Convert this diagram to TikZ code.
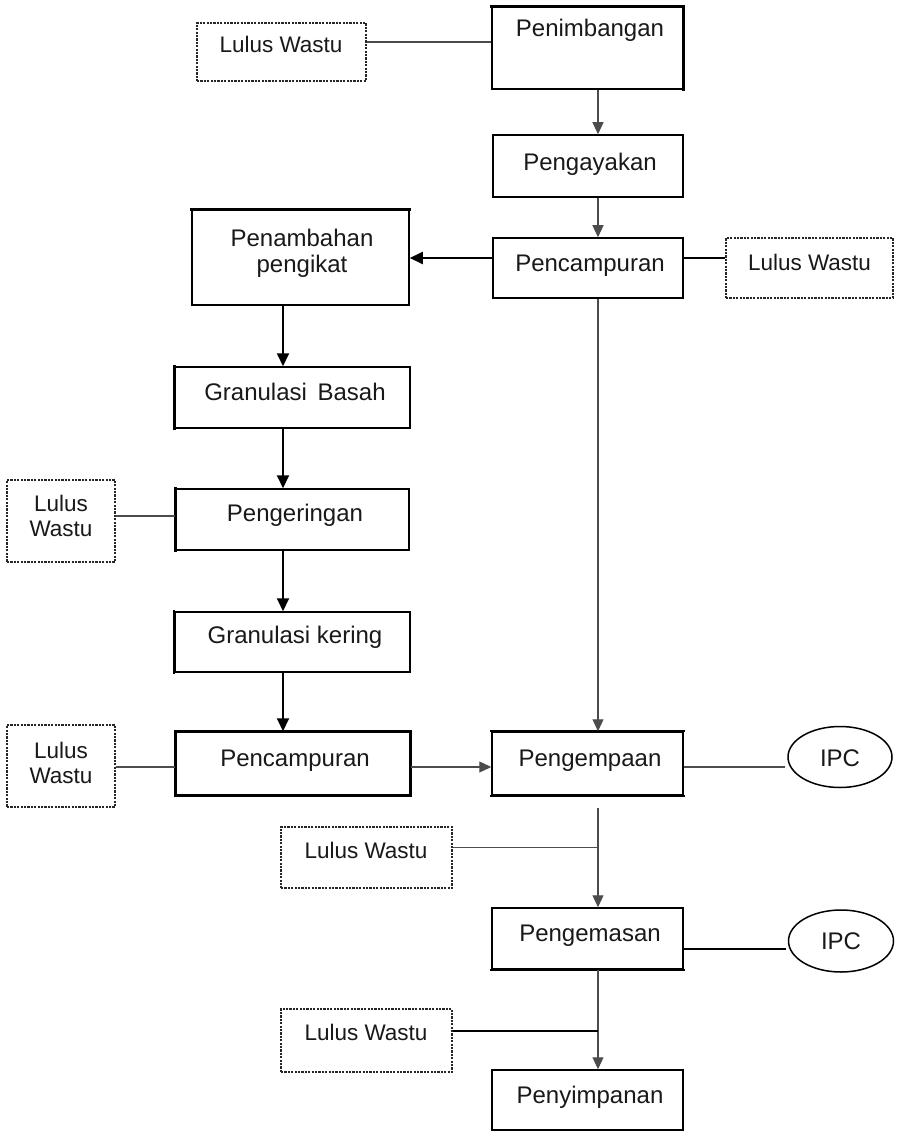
\documentclass[tikz,border=0pt]{standalone}
\usepackage{fontspec}
\setmainfont{Liberation Sans}
\usetikzlibrary{arrows.meta,shapes.geometric}
\begin{document}
\begin{tikzpicture}[x=1pt,y=-1pt,
 box/.style={draw, line width=1.5pt, inner sep=0pt},
 dbox/.style={draw=black!85, line width=1.4pt, dash pattern=on 2.2pt off 1.2pt, inner sep=0pt},
 oval/.style={ellipse, draw, line width=1.5pt, inner sep=0pt},
 txt/.style={anchor=base, inner sep=0pt, text=black!90, font=\fontsize{24}{27}\selectfont},
 ltxt/.style={txt, font=\fontsize{22.5}{25}\selectfont},
 con/.style={draw=black!70, line width=1.1pt},
 tcon/.style={draw=black, line width=2pt},
 arr/.style={con, -{Triangle[length=12pt,width=11pt]}},
 tarr/.style={tcon, -{Triangle[length=13pt,width=12pt]}},
 thk/.style={line width=3pt, line cap=rect}]
\fill[white] (0,0) rectangle (897,1131);
\useasboundingbox (0,0) rectangle (897,1131);
% column coordinates
\coordinate (rc) at (598,0);
\coordinate (lc) at (283,0);
% right column boxes
\node[box, minimum width=191pt, minimum height=82pt] (pnb) at (587.5,48) {};
\node[box, minimum width=190pt, minimum height=62pt] (pgy) at (588,166) {};
\node[box, minimum width=190pt, minimum height=60pt] (pcr) at (588,268) {};
\node[dbox, minimum width=167pt, minimum height=60pt] (lwr) at (809.5,268) {};
\node[dbox, minimum width=169pt, minimum height=58pt] (lwt) at (281.5,52) {};
% left column boxes
\node[box, minimum width=217pt, minimum height=95pt] (pgk) at (300.5,257.5) {};
\node[box, minimum width=235pt, minimum height=61pt] (gb) at (292.5,397.5) {};
\node[box, minimum width=233pt, minimum height=61pt] (pgr) at (292.5,519.5) {};
\node[dbox, minimum width=108pt, minimum height=82pt] (lw1) at (61,521) {};
\node[box, minimum width=235pt, minimum height=60pt] (gk) at (292.5,642) {};
\node[dbox, minimum width=108pt, minimum height=82pt] (lw2) at (61,766) {};
\node[box, minimum width=234pt, minimum height=63pt] (pcl) at (293,763.5) {};
% lower right
\node[box, minimum width=191pt, minimum height=63pt] (pgm) at (587.5,763.5) {};
\node[oval, minimum width=104pt, minimum height=61pt] (ipc1) at (840,757) {};
\node[dbox, minimum width=171pt, minimum height=61pt] (lw3) at (366.5,857.5) {};
\node[box, minimum width=191pt, minimum height=61pt] (pgs) at (587.5,938.5) {};
\node[oval, minimum width=105pt, minimum height=62pt] (ipc2) at (841,941) {};
\node[dbox, minimum width=171pt, minimum height=63pt] (lw4) at (366.5,1040.5) {};
\node[box, minimum width=191pt, minimum height=60pt] (pys) at (587.5,1100) {};
% heavier edges
\draw[thk] (pnb.north west) -- (pnb.north east) -- (pnb.south east);
\draw[thk] (pgk.north west) -- (pgk.north east);
\draw[thk] (gb.north west) -- (gb.south west);
\draw[thk] (pgr.north west) -- (pgr.south west);
\draw[thk, line width=2.4pt] (gk.north west) -- (gk.south west);
\draw[thk] (pcl.north west) rectangle (pcl.south east);
\draw[thk, line width=2.4pt] (pgm.north west) -- (pgm.north east);
\draw[thk, line width=2.4pt] (pgm.south west) -- (pgm.south east);
\draw[thk, line width=2.4pt] (pgs.south west) -- (pgs.south east);
% texts
\node[txt] (tpnb) at (590,36.5) {Penimbangan};
\node[txt] (tpgy) at (590,170.5) {Pengayakan};
\node[txt] (tpcr) at (590,271.5) {Pencampuran};
\node[ltxt] (tlwr) at (809.5,271) {Lulus Wastu};
\node[ltxt] (tlwt) at (281,53) {Lulus Wastu};
\node[txt] (tpgk1) at (302,246.5) {Penambahan};
\node[txt] (tpgk2) at (302,272.5) {pengikat};
\node[txt] (tgb) at (295,400.5) {Granulasi\, Basah};
\node[txt] (tpgr) at (295,521.5) {Pengeringan};
\node[ltxt] (tlw1a) at (61,511) {Lulus};
\node[ltxt] (tlw1b) at (61,536) {Wastu};
\node[txt] (tgk) at (295,643.5) {Granulasi kering};
\node[ltxt] (tlw2a) at (61,758) {Lulus};
\node[ltxt] (tlw2b) at (61,783) {Wastu};
\node[txt] (tpcl) at (295,766.5) {Pencampuran};
\node[txt] (tpgm) at (590,766.5) {Pengempaan};
\node[txt] (tipc1) at (840,766) {IPC};
\node[ltxt] (tlw3) at (366,858) {Lulus Wastu};
\node[txt] (tpgs) at (590,941.5) {Pengemasan};
\node[txt] (tipc2) at (841,949.5) {IPC};
\node[ltxt] (tlw4) at (366,1040) {Lulus Wastu};
\node[txt] (tpys) at (590,1103.5) {Penyimpanan};
% connectors, top right
\coordinate (a1) at ([yshift=10pt]lwt.east);
\draw[con] (a1) -- (a1 -| pnb.west);
\draw[arr] (pnb.south -| rc) -- (pgy.north -| rc);
\draw[arr] (pgy.south -| rc) -- (pcr.north -| rc);
\coordinate (a2) at ([yshift=10pt]pcr.west);
\draw[tarr] (a2) -- (a2 -| pgk.east);
\draw[tcon] (pcr.east |- a2) -- (a2 -| lwr.west);
\draw[arr] (pcr.south -| rc) -- (pgm.north -| rc);
% left column
\draw[tarr] (pgk.south -| lc) -- (gb.north -| lc);
\draw[tarr] (gb.south -| lc) -- (pgr.north -| lc);
\draw[tarr] (pgr.south -| lc) -- (gk.north -| lc);
\draw[tarr] (gk.south -| lc) -- (pcl.north -| lc);
\coordinate (a3) at ([yshift=3.5pt]pgr.west);
\draw[con] (lw1.east |- a3) -- (a3);
\coordinate (a4) at ([yshift=-3.5pt]pcl.east);
\draw[con] (lw2.east |- a4) -- (a4 -| pcl.west);
\draw[arr] (a4) -- (a4 -| pgm.west);
% lower right
\coordinate (a5) at ([yshift=-3.5pt]pgm.east);
\draw[con, shorten >=2pt] (a5) -- (a5 -| ipc1.west);
\draw[arr, shorten <=12pt] (pgm.south -| rc) -- (pgs.north -| rc);
\coordinate (a6) at ([yshift=10pt]lw3.east);
\draw[con] (a6) -- (a6 -| rc);
\coordinate (a7) at ([yshift=-10pt]pgs.east);
\draw[tcon, shorten >=1.5pt] (a7) -- (a7 -| ipc2.west);
\draw[arr] (pgs.south -| rc) -- (pys.north -| rc);
\coordinate (a8) at ([yshift=9.5pt]lw4.east);
\draw[tcon, line width=1.6pt] (a8) -- (a8 -| rc);
\end{tikzpicture}
\end{document}
